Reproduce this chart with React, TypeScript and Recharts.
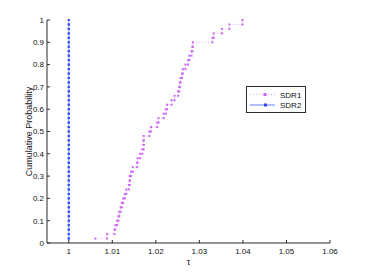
import React from "react";
import { ComposedChart, Line, XAxis, YAxis, Legend } from "recharts";

// sorted performance ratios, one per problem
const sdr1Tau = [
  1.0061, 1.0088, 1.0105, 1.0107, 1.0111, 1.0114, 1.0116, 1.0119, 1.0122, 1.0125,
  1.0129, 1.0132, 1.0138, 1.014, 1.014, 1.0143, 1.0147, 1.0157, 1.0158, 1.0164,
  1.0169, 1.0172, 1.0172, 1.0172, 1.0185, 1.0189, 1.0203, 1.0206, 1.0218, 1.0223,
  1.0226, 1.0236, 1.0243, 1.0251, 1.0254, 1.0255, 1.0257, 1.026, 1.0262, 1.0268,
  1.0274, 1.0277, 1.0282, 1.0284, 1.0285, 1.033, 1.0333, 1.0352, 1.0369, 1.0399,
];
const sdr2Tau = [
  1, 1, 1, 1, 1, 1, 1, 1, 1, 1,
  1, 1, 1, 1, 1, 1, 1, 1, 1, 1,
  1, 1, 1, 1, 1, 1, 1, 1, 1, 1,
  1, 1, 1, 1, 1, 1, 1, 1, 1, 1,
  1, 1, 1, 1, 1, 1, 1, 1, 1, 1,
];
const cumProb = [
  0.02, 0.04, 0.06, 0.08, 0.1, 0.12, 0.14, 0.16, 0.18, 0.2,
  0.22, 0.24, 0.26, 0.28, 0.3, 0.32, 0.34, 0.36, 0.38, 0.4,
  0.42, 0.44, 0.46, 0.48, 0.5, 0.52, 0.54, 0.56, 0.58, 0.6,
  0.62, 0.64, 0.66, 0.68, 0.7, 0.72, 0.74, 0.76, 0.78, 0.8,
  0.82, 0.84, 0.86, 0.88, 0.9, 0.92, 0.94, 0.96, 0.98, 1,
];
const xTicks = [1, 1.01, 1.02, 1.03, 1.04, 1.05, 1.06];
const yTicks = [0, 0.1, 0.2, 0.3, 0.4, 0.5, 0.6, 0.7, 0.8, 0.9, 1];

const FONT = "'Liberation Sans', Arial, sans-serif";
const AXIS = "#2b2b2b";
const SDR1_MARK = "#cc66f5";
const SDR1_LINE = "#e2aef8";
const SDR2_MARK = "#2a45ff";
const SDR2_LINE = "#9aabff";

// stairs: every step gets a corner at the old level and at the new one
function stairs(tau: number[], prob: number[]) {
  const pts: { x: number; y: number }[] = [];
  tau.forEach((t, i) => {
    if (i > 0) pts.push({ x: t, y: prob[i - 1] });
    pts.push({ x: t, y: prob[i] });
  });
  return pts;
}

const sdr1Data = stairs(sdr1Tau, cumProb);
const sdr2Data = stairs(sdr2Tau, cumProb);

const squareDot = (fill: string, s: number) => (p: any) => (
  <rect key={`d-${p.index}`} x={p.cx - s / 2} y={p.cy - s / 2} width={s} height={s} fill={fill} />
);

function LegendBox() {
  return (
    <div style={{ width: 60, height: 27, border: `1px solid ${AXIS}`, background: "#fff", boxSizing: "border-box" }}>
      <svg width={58} height={25} style={{ display: "block" }}>
        <line x1={3} x2={28} y1={7.5} y2={7.5} stroke={SDR1_LINE} strokeDasharray="1 2" />
        <rect x={16.5} y={6} width={3} height={3} fill={SDR1_MARK} />
        <text x={33} y={10.5} fontSize={8} fontFamily={FONT} fill="#111">SDR1</text>
        <line x1={3} x2={28} y1={18} y2={18} stroke={SDR2_LINE} strokeWidth={1.5} />
        <rect x={17} y={16.5} width={3} height={3} fill={SDR2_MARK} />
        <text x={33} y={21} fontSize={8} fontFamily={FONT} fill="#111">SDR2</text>
      </svg>
    </div>
  );
}

export default function App() {
  const tickStyle = { fontSize: 8, fill: "#111", fontFamily: FONT };
  return (
    <div style={{ position: "absolute", left: 0, top: 0, width: 365, height: 275, background: "#fff" }}>
      <ComposedChart width={365} height={275} margin={{ top: 20, right: 35, bottom: 0, left: 0 }}>
        <XAxis
          dataKey="x"
          type="number"
          domain={[0.995, 1.06]}
          ticks={xTicks}
          allowDataOverflow
          height={32}
          tickSize={-3}
          tickMargin={8}
          tick={tickStyle}
          tickFormatter={(v) => String(v)}
          stroke={AXIS}
          label={{ value: "τ", position: "center", dy: 3, fontSize: 9, fill: "#111", fontFamily: FONT }}
        />
        <XAxis
          xAxisId="top"
          orientation="top"
          type="number"
          domain={[0.995, 1.06]}
          ticks={xTicks}
          height={0}
          tickSize={-3}
          tick={false}
          stroke={AXIS}
        />
        <YAxis
          type="number"
          domain={[0, 1]}
          ticks={yTicks}
          width={47}
          tickSize={-3}
          tickMargin={6}
          tick={tickStyle}
          stroke={AXIS}
          label={{ value: "Cumulative Probability", angle: -90, position: "center", dx: 5, fontSize: 9, fill: "#111", fontFamily: FONT }}
        />
        <YAxis
          yAxisId="right"
          orientation="right"
          type="number"
          domain={[0, 1]}
          ticks={yTicks}
          width={0}
          tickSize={-3}
          tick={false}
          stroke={AXIS}
        />
        <Legend
          layout="vertical"
          align="center"
          verticalAlign="middle"
          wrapperStyle={{ left: 246, top: 86, width: 60, height: 27 }}
          content={() => <LegendBox />}
        />
        <Line
          data={sdr2Data}
          dataKey="y"
          name="SDR2"
          type="linear"
          stroke={SDR2_LINE}
          strokeWidth={1}
          dot={squareDot(SDR2_MARK, 2)}
          activeDot={false}
          isAnimationActive={false}
        />
        <Line
          data={sdr1Data}
          dataKey="y"
          name="SDR1"
          type="linear"
          stroke={SDR1_LINE}
          strokeWidth={1}
          strokeDasharray="1 2"
          dot={squareDot(SDR1_MARK, 2)}
          activeDot={false}
          isAnimationActive={false}
        />
      </ComposedChart>
    </div>
  );
}
